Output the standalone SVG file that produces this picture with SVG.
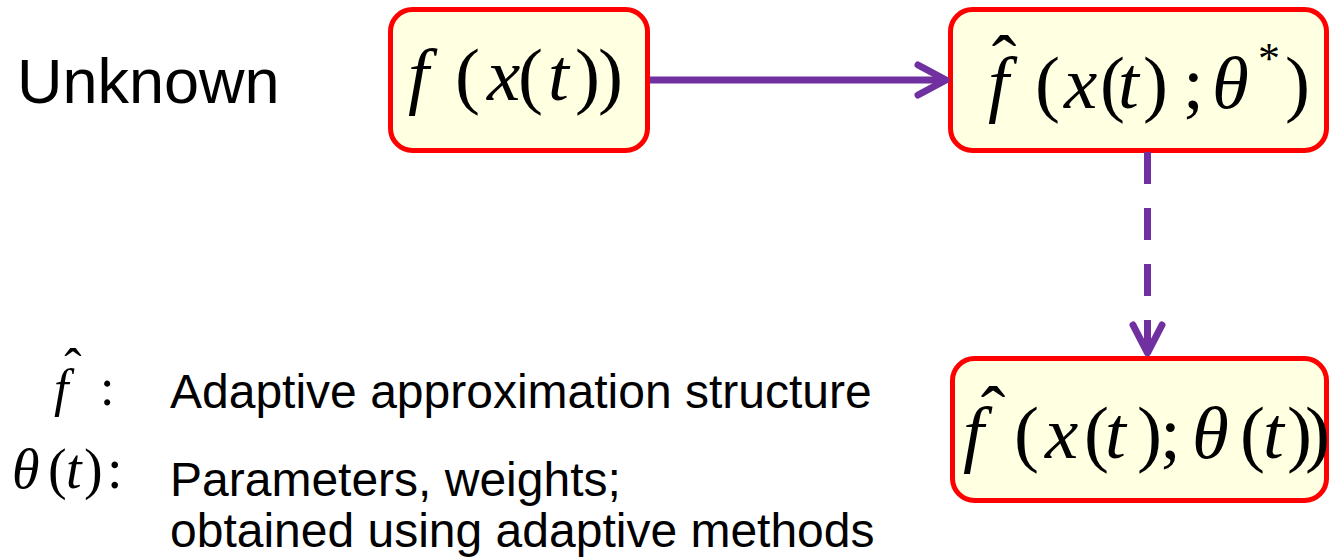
<svg xmlns="http://www.w3.org/2000/svg" width="1329" height="560" viewBox="0 0 1329 560">
<style>
.box{fill:#FFFFE1;stroke:#FF0000;stroke-width:5}
.m{font-family:"Liberation Serif","Times New Roman",serif;fill:#000}
.i{font-style:italic}
.s{font-family:"Liberation Sans",Arial,sans-serif;fill:#000}
.c{stroke:#7030A0;stroke-width:7;fill:none}
</style>
<rect width="1329" height="560" fill="#fff"/>
<text class="s" x="17" y="103" font-size="63">Unknown</text>
<g id="box1">
<rect class="box" x="390.5" y="9.5" width="257" height="141" rx="22"/>
<text class="m" y="100" font-size="75"><tspan class="i" x="408">f</tspan><tspan x="455">(</tspan><tspan class="i" x="487">x</tspan><tspan x="518">(</tspan><tspan class="i" x="548">t</tspan><tspan x="575">)</tspan><tspan x="598">)</tspan></text>
</g>
<g id="box2">
<rect class="box" x="950.5" y="9.5" width="376" height="141" rx="22"/>
<text class="m" y="108" font-size="75"><tspan class="i" x="988">f</tspan><tspan x="1035">(</tspan><tspan class="i" x="1064">x</tspan><tspan x="1100">(</tspan><tspan class="i" x="1118">t</tspan><tspan x="1143">)</tspan><tspan x="1183">;</tspan><tspan class="i" x="1212">θ</tspan><tspan x="1285">)</tspan></text>
<text class="m" x="1269" y="73" font-size="44" text-anchor="middle">*</text>
<text class="m" x="1004" y="87" font-size="74" text-anchor="middle">ˆ</text>
</g>
<g id="box3">
<rect class="box" x="952.5" y="358.5" width="374" height="142" rx="22"/>
<text class="m" y="458" font-size="75"><tspan class="i" x="963">f</tspan><tspan x="1014">(</tspan><tspan class="i" x="1045">x</tspan><tspan x="1084">(</tspan><tspan class="i" x="1105">t</tspan><tspan x="1137">)</tspan><tspan x="1160">;</tspan><tspan class="i" x="1192">θ</tspan><tspan x="1240">(</tspan><tspan class="i" x="1263">t</tspan><tspan x="1287">)</tspan><tspan x="1305">)</tspan></text>
<text class="m" x="993" y="438" font-size="74" text-anchor="middle">ˆ</text>
</g>
<g id="legend">
<text class="m i" x="54" y="406" font-size="52">f</text>
<text class="m" x="73" y="385" font-size="52" text-anchor="middle">ˆ</text>
<text class="m" x="100" y="405" font-size="52">:</text>
<text class="m" y="488" font-size="56"><tspan class="i" x="12">θ</tspan><tspan x="48">(</tspan><tspan class="i" x="66">t</tspan><tspan x="84">)</tspan><tspan x="107">:</tspan></text>
<text class="s" x="170" y="408" font-size="48">Adaptive approximation structure</text>
<text class="s" x="170" y="496" font-size="48">Parameters, weights;</text>
<text class="s" x="170" y="547" font-size="48">obtained using adaptive methods</text>
</g>
<g id="connectors">
<line class="c" x1="650" y1="80" x2="944" y2="80"/>
<polyline class="c" points="918,65 946,80 918,95" stroke-linecap="round" stroke-linejoin="round"/>
<line class="c" x1="1147.5" y1="152" x2="1147.5" y2="320" stroke-dasharray="32,24"/>
<line class="c" x1="1147.5" y1="320" x2="1147.5" y2="354"/>
<polyline class="c" points="1133,325 1147.5,353 1162,325" stroke-linecap="round" stroke-linejoin="round"/>
</g>
</svg>
